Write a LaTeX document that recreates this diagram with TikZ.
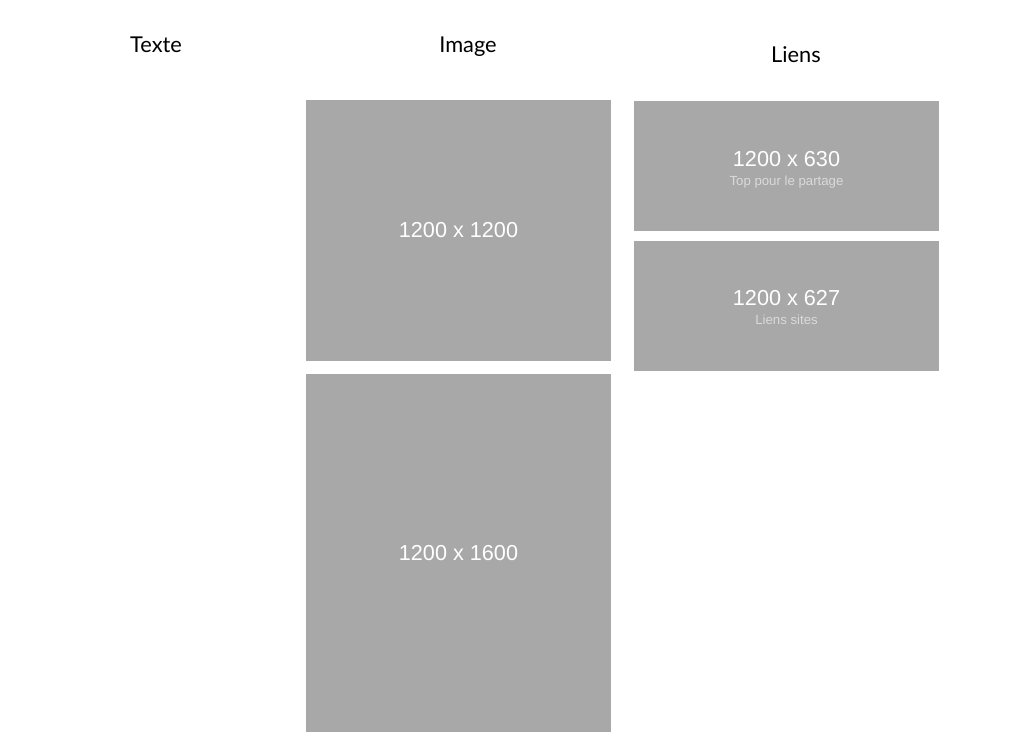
\documentclass[tikz,border=0pt]{standalone}
\usepackage{fontspec}
\setmainfont{Liberation Sans}
\newfontfamily\titlefont{Lato}
\usepackage{tikz}
\usetikzlibrary{positioning}
\definecolor{boxgray}{RGB}{168,168,168}
\definecolor{subgray}{RGB}{218,218,218}

\begin{document}
\begin{tikzpicture}[x=0.025cm, y=-0.025cm,
  imgbox/.style={fill=boxgray, draw=none, inner sep=0pt},
  heading/.style={font=\titlefont\fontsize{15.5}{18}\selectfont, text=black, anchor=base, inner sep=0pt},
  dimlabel/.style={font=\fontsize{15.4}{18}\selectfont, text=white, inner sep=0pt},
  sublabel/.style={font=\fontsize{9.4}{11}\selectfont, text=subgray, inner sep=0pt}]
  \useasboundingbox (0,0) rectangle (1024,750);
  % column titles
  \node[heading] (texte) at (156,52) {Texte};
  \node[heading] (image) at (468,52) {Image};
  \node[heading] (liens) at (796,62) {Liens};
  % image formats
  \node[imgbox, minimum width=7.625cm, minimum height=6.525cm] (carre) at (458.5,230.5) {};
  \node[dimlabel] at (carre.center) {1200 x 1200};
  \node[imgbox, minimum width=7.625cm, minimum height=8.95cm] (portrait) at (458.5,553) {};
  \node[dimlabel] at (portrait.center) {1200 x 1600};
  % link formats
  \node[imgbox, minimum width=7.625cm, minimum height=3.25cm] (partage) at (786.5,166) {};
  \node[dimlabel] (d630) at (786.5,159) {1200 x 630};
  \node[sublabel, below=6pt of d630] {Top pour le partage};
  \node[imgbox, minimum width=7.625cm, minimum height=3.25cm] (sites) at (786.5,306) {};
  \node[dimlabel] (d627) at (786.5,298) {1200 x 627};
  \node[sublabel, below=6pt of d627] {Liens sites};
\end{tikzpicture}
\end{document}
